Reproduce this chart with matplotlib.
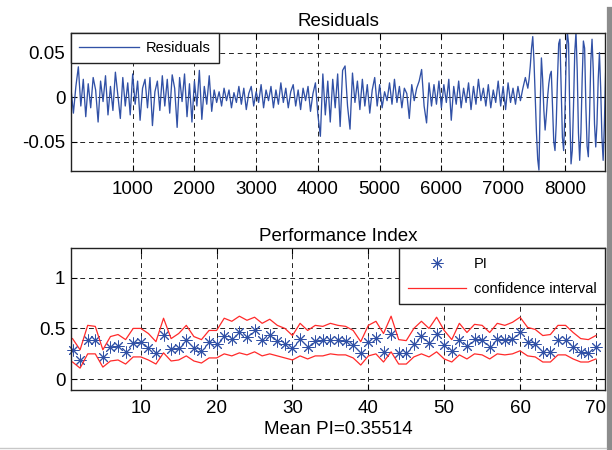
import numpy as np
import matplotlib
matplotlib.use("Agg")
import matplotlib.pyplot as plt
from matplotlib.lines import Line2D

plt.rcParams["font.family"] = ["Liberation Sans", "DejaVu Sans"]
plt.rcParams["axes.unicode_minus"] = False

# -----------------------------
# Data
# -----------------------------
# residuals, 0..7360 every 40 samples
res_calm = [
    0.010, -0.018, 0.012, 0.034, -0.010, 0.020, -0.022, 0.015, -0.012, 0.022,
    0.008, -0.028, 0.018, -0.005, 0.024, -0.020, 0.012, -0.015, 0.028, 0.002,
    -0.024, 0.022, -0.010, 0.016, -0.020, 0.026, -0.008, 0.018, -0.026, 0.010,
    0.020, -0.012, 0.022, -0.032, 0.006, 0.018, -0.015, 0.024, -0.010, 0.020,
    -0.018, 0.025, 0.010, -0.034, 0.022, -0.005, 0.026, -0.022, 0.015, -0.028,
    0.018, -0.010, 0.030, -0.025, 0.012, -0.008, 0.024, -0.016, 0.008, -0.006,
    0.006, -0.010, 0.010, -0.004, 0.008, -0.012, 0.005, -0.006, 0.012, -0.008,
    0.010, -0.014, 0.004, 0.012, -0.010, 0.006, -0.006, 0.014, -0.012, 0.008,
    -0.004, 0.012, -0.012, 0.008, -0.008, 0.016, -0.006, 0.010, -0.012, 0.006,
    0.014, -0.010, 0.008, -0.014, 0.010, -0.004, 0.012, -0.016, 0.004, 0.016,
    -0.020, -0.044, 0.026, -0.020, 0.018, -0.028, 0.020, -0.012, 0.026, -0.033,
    0.030, 0.035, -0.010, -0.036, 0.027, -0.006, 0.018, -0.014, 0.020, -0.010,
    0.014, -0.018, 0.008, 0.022, -0.010, 0.014, -0.012, 0.006, -0.004, 0.016,
    -0.008, 0.020, -0.006, 0.012, -0.012, 0.010, 0.004, -0.024, 0.014, -0.004,
    0.010, 0.018, 0.031, -0.010, -0.029, 0.016, -0.010, 0.014, -0.008, 0.018,
    -0.012, 0.014, -0.006, 0.020, -0.026, 0.012, -0.008, 0.018, -0.012, 0.010,
    -0.006, 0.016, -0.014, 0.012, -0.008, 0.020, -0.004, 0.010, -0.010, 0.014,
    -0.012, 0.008, -0.006, 0.018, -0.010, 0.012, -0.014, 0.016, -0.006, 0.010,
    -0.008, 0.012, -0.004, 0.010, 0.022,
]
# residuals, 7400..8660 every 20 samples (large oscillation at the end)
res_wild = [
    0.010, 0.020, 0.035, 0.055, 0.068, 0.040, 0.000, -0.040, -0.070, -0.082,
    -0.010, 0.044, 0.020, -0.015, -0.037, -0.020, 0.000, 0.015, 0.025, 0.029,
    -0.010, -0.050, -0.060, -0.030, 0.020, 0.060, 0.065, 0.010, -0.045, -0.060,
    -0.020, 0.040, 0.073, 0.060, -0.020, -0.075, -0.060, -0.010, 0.050, 0.073,
    0.030, -0.040, -0.071, -0.040, 0.020, 0.063, 0.055, -0.010, -0.055, -0.067,
    -0.020, 0.040, 0.065, 0.030, -0.030, -0.056, -0.030, 0.020, 0.050, 0.010,
    -0.045, -0.071, -0.030, 0.027,
]

pi_values = [
    0.29, 0.19, 0.39, 0.39, 0.22, 0.32, 0.33, 0.27, 0.36, 0.37,
    0.31, 0.26, 0.44, 0.30, 0.31, 0.39, 0.31, 0.28, 0.37, 0.35,
    0.43, 0.40, 0.46, 0.42, 0.48, 0.39, 0.44, 0.38, 0.35, 0.31,
    0.40, 0.32, 0.38, 0.39, 0.39, 0.39, 0.38, 0.34, 0.26, 0.37,
    0.41, 0.27, 0.45, 0.26, 0.26, 0.35, 0.43, 0.36, 0.45, 0.34,
    0.28, 0.39, 0.33, 0.40, 0.39, 0.32, 0.40, 0.39, 0.40, 0.46,
    0.37, 0.35, 0.27, 0.27, 0.39, 0.39, 0.32, 0.27, 0.26, 0.32,
]
ci_upper = [
    0.40, 0.29, 0.53, 0.52, 0.29, 0.42, 0.44, 0.39, 0.50, 0.50,
    0.45, 0.37, 0.60, 0.40, 0.45, 0.53, 0.42, 0.39, 0.48, 0.48,
    0.60, 0.57, 0.62, 0.58, 0.61, 0.55, 0.59, 0.53, 0.50, 0.43,
    0.55, 0.48, 0.53, 0.52, 0.55, 0.53, 0.52, 0.48, 0.37, 0.53,
    0.57, 0.45, 0.62, 0.39, 0.38, 0.50, 0.57, 0.50, 0.61, 0.48,
    0.39, 0.55, 0.46, 0.54, 0.53, 0.46, 0.55, 0.53, 0.56, 0.61,
    0.51, 0.49, 0.43, 0.44, 0.53, 0.53, 0.46, 0.40, 0.39, 0.43,
]
ci_lower = [
    0.17, 0.11, 0.25, 0.25, 0.12, 0.18, 0.19, 0.15, 0.22, 0.22,
    0.19, 0.15, 0.26, 0.18, 0.19, 0.23, 0.18, 0.16, 0.21, 0.21,
    0.25, 0.23, 0.26, 0.24, 0.27, 0.23, 0.25, 0.23, 0.21, 0.19,
    0.23, 0.20, 0.23, 0.23, 0.25, 0.24, 0.24, 0.21, 0.14, 0.23,
    0.25, 0.17, 0.27, 0.15, 0.15, 0.22, 0.25, 0.22, 0.27, 0.20,
    0.17, 0.24, 0.20, 0.25, 0.24, 0.20, 0.25, 0.24, 0.25, 0.28,
    0.23, 0.22, 0.17, 0.17, 0.24, 0.24, 0.20, 0.17, 0.17, 0.20,
]
mean_pi_text = "Mean PI=0.35514"

res_x = np.concatenate([np.arange(len(res_calm)) * 40,
                        7400 + np.arange(len(res_wild)) * 20])
res_y = np.array(res_calm + res_wild)
pi_x = np.arange(1, len(pi_values) + 1)

blue = "#3151A6"
red = "#FF2A2A"
grid_kw = dict(color="#222222", linestyle=(0, (5, 4)), linewidth=0.7)
fs = 13.5


def style_axes(ax):
    ax.grid(True, **grid_kw)
    ax.tick_params(direction="in", length=4, top=True, right=True,
                   labelsize=fs, pad=7)
    ax.tick_params(axis="y", pad=4)
    for s in ax.spines.values():
        s.set_linewidth(1.0)
        s.set_color("#222222")


fig = plt.figure(figsize=(6.12, 4.5), dpi=100)

# -----------------------------
# 1. Residuals
# -----------------------------
ax1 = fig.add_axes([71 / 612, 1 - 171 / 450, 534 / 612, 138 / 450])
ax1.plot(res_x, res_y, color=blue, linewidth=0.95, label="Residuals")
ax1.set_xlim(1, 8650)
ax1.set_ylim(-0.083, 0.072)
ax1.set_xticks(range(1000, 9000, 1000))
ax1.set_yticks([-0.05, 0, 0.05])
ax1.set_yticklabels(["-0.05", "0", "0.05"])
ax1.set_title("Residuals", fontsize=fs, pad=5)
style_axes(ax1)
leg1 = ax1.legend(loc="upper left", borderaxespad=0, fontsize=10.5,
                  handlelength=4.1, handletextpad=0.5, borderpad=0.55,
                  fancybox=False, framealpha=1, edgecolor="#222222")
leg1.get_frame().set_linewidth(1.0)

# -----------------------------
# 2. Performance Index
# -----------------------------
ax2 = fig.add_axes([71 / 612, 1 - 390 / 450, 534 / 612, 142 / 450])
ax2.plot(pi_x, pi_values, linestyle="none", marker=(8, 2, 0), markersize=8.5,
         markeredgewidth=0.7, color=blue, label="PI", clip_on=False)
ax2.plot(pi_x, ci_upper, color=red, linewidth=0.9, label="confidence interval")
ax2.plot(pi_x, ci_lower, color=red, linewidth=0.9)
ax2.set_xlim(0.8, 71.2)
ax2.set_ylim(-0.105, 1.29)
ax2.set_xticks(range(10, 80, 10))
ax2.set_yticks([0, 0.5, 1])
ax2.set_yticklabels(["0", "0.5", "1"])
ax2.set_title("Performance Index", fontsize=fs, pad=5)
ax2.set_xlabel(mean_pi_text, fontsize=fs, labelpad=3)
style_axes(ax2)
leg2 = ax2.legend(loc="upper right", borderaxespad=0, fontsize=10.5,
                  handlelength=4.0, handletextpad=0.5, borderpad=0.6,
                  labelspacing=0.75, fancybox=False, framealpha=1,
                  edgecolor="#222222")
leg2.get_frame().set_linewidth(1.0)

# gray window edges seen on the right and bottom of the reference
fig.add_artist(Line2D([609.5 / 612, 609.5 / 612], [0, 1 - 10 / 450],
                      transform=fig.transFigure, color="#8c8c8c", linewidth=4.5))
fig.add_artist(Line2D([0, 606 / 612], [1 - 448 / 450, 1 - 448 / 450],
                      transform=fig.transFigure, color="#c8c8c8", linewidth=1.0))

fig.savefig("out.png", dpi=100)
